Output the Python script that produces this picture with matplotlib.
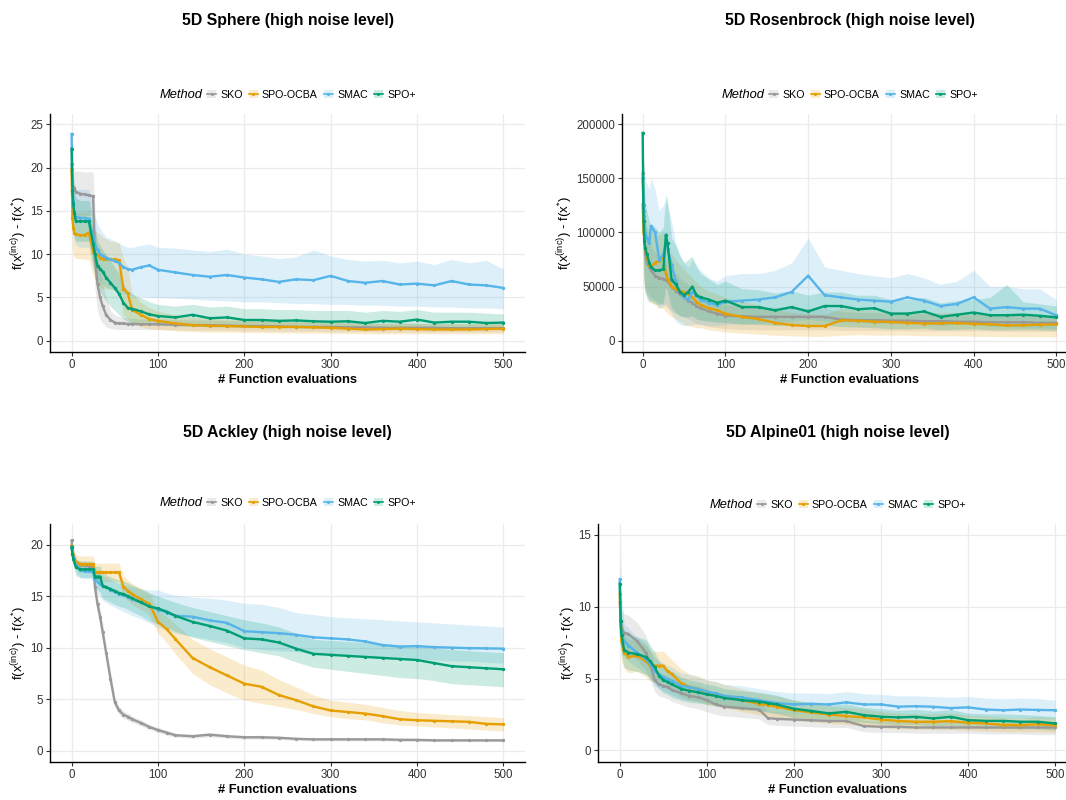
import matplotlib
matplotlib.use('Agg')
import matplotlib.pyplot as plt
from matplotlib.lines import Line2D
from matplotlib.patches import Patch

plt.rcParams['font.family'] = ['Liberation Sans', 'DejaVu Sans']
plt.rcParams['mathtext.default'] = 'regular'

METHODS = ['SKO', 'SPO-OCBA', 'SMAC', 'SPO+']
COLORS = ['#999999', '#E69F00', '#56B4E9', '#009E73']
X_TICKS = [0, 100, 200, 300, 400, 500]

# ---------------- 5D Sphere ----------------
sph_x = [0, 1, 2, 3, 5, 10, 15, 20, 25, 27, 30, 33, 36, 40, 45, 50, 55, 60, 65, 70, 80, 90, 100,
         120, 140, 160, 180, 200, 220, 240, 260, 280, 300, 320, 340, 360, 380, 400, 420, 440, 460, 480, 500]
sph_sko = [20.4, 18.0, 17.8, 17.6, 17.2, 17.0, 16.9, 16.8, 16.7, 9.5, 6.5, 5.0, 4.0, 3.0, 2.4, 2.1, 2.0, 2.0, 1.95, 1.95,
           1.9, 1.9, 1.9, 1.85, 1.8, 1.8, 1.75, 1.7, 1.7, 1.65, 1.6, 1.6, 1.6, 1.55, 1.55, 1.5, 1.5, 1.5, 1.5, 1.45, 1.45, 1.45, 1.45]
sph_sko_lo = [20.4, 15.5, 15.0, 14.5, 14.5, 14.5, 14.5, 14.5, 14.5, 6.0, 3.5, 2.5, 2.0, 1.6, 1.4, 1.35, 1.3, 1.3, 1.3, 1.3,
              1.3, 1.3, 1.3, 1.25, 1.2, 1.2, 1.2, 1.15, 1.15, 1.1, 1.1, 1.1, 1.05, 1.05, 1.05, 1.0, 1.0, 1.0, 1.0, 1.0, 1.0, 1.0, 1.0]
sph_sko_hi = [20.4, 20.0, 19.8, 19.6, 19.6, 19.6, 19.5, 19.5, 19.5, 15.0, 10.0, 8.0, 6.5, 5.0, 3.5, 3.0, 2.8, 2.7, 2.6, 2.6,
              2.5, 2.5, 2.5, 2.45, 2.4, 2.4, 2.35, 2.3, 2.3, 2.25, 2.2, 2.2, 2.15, 2.1, 2.1, 2.05, 2.05, 2.0, 2.0, 2.0, 1.95, 1.95, 1.95]
sph_ocba = [19.8, 14.2, 13.0, 12.5, 12.3, 12.2, 12.2, 12.5, 10.3, 10.0, 9.9, 9.6, 9.5, 9.4, 9.4, 9.4, 9.3, 6.0, 5.5, 3.6,
            3.0, 2.5, 2.3, 2.0, 1.8, 1.75, 1.7, 1.65, 1.6, 1.6, 1.6, 1.55, 1.5, 1.4, 1.3, 1.35, 1.4, 1.35, 1.3, 1.3, 1.3, 1.35, 1.4]
sph_ocba_lo = [19.8, 11.0, 10.0, 9.7, 9.5, 9.5, 9.4, 9.4, 7.5, 7.0, 6.5, 6.3, 6.0, 6.0, 6.0, 6.0, 5.5, 3.0, 2.5, 2.0,
               1.6, 1.4, 1.3, 1.15, 1.05, 1.0, 1.0, 0.95, 0.95, 0.9, 0.9, 0.9, 0.85, 0.85, 0.8, 0.8, 0.8, 0.8, 0.8, 0.8, 0.8, 0.8, 0.8]
sph_ocba_hi = [19.8, 17.0, 15.5, 15.0, 14.8, 14.8, 14.8, 15.0, 13.0, 12.8, 12.5, 12.3, 12.0, 11.8, 11.5, 11.5, 11.3, 9.5, 8.5, 5.5,
               4.5, 3.8, 3.4, 3.0, 2.7, 2.6, 2.5, 2.4, 2.35, 2.3, 2.3, 2.25, 2.2, 2.1, 2.0, 2.0, 2.05, 2.0, 1.95, 1.95, 1.95, 2.0, 2.0]
sph_smac = [23.9, 18.5, 16.0, 15.0, 14.3, 14.2, 14.2, 14.1, 12.0, 11.0, 10.5, 10.0, 9.8, 9.6, 9.4, 9.2, 9.0, 8.5, 8.3, 8.2,
            8.5, 8.7, 8.2, 7.9, 7.6, 7.4, 7.6, 7.3, 7.1, 6.8, 7.1, 7.0, 7.5, 6.9, 6.7, 6.9, 6.5, 6.6, 6.4, 6.9, 6.5, 6.4, 6.1]
sph_smac_lo = [23.9, 14.0, 12.0, 11.5, 11.0, 10.8, 10.8, 10.8, 8.5, 7.8, 7.2, 6.8, 6.5, 6.2, 6.0, 5.8, 5.6, 5.4, 5.3, 5.2,
               5.1, 5.0, 5.0, 4.9, 4.8, 4.7, 4.6, 4.5, 4.5, 4.4, 4.3, 4.3, 4.2, 4.2, 4.1, 4.1, 4.0, 4.0, 3.9, 3.9, 3.8, 3.8, 3.7]
sph_smac_hi = [23.9, 22.0, 20.0, 18.5, 17.5, 17.5, 17.5, 17.5, 15.5, 14.5, 13.5, 13.0, 12.5, 12.0, 11.8, 11.5, 11.3, 11.0, 10.8, 10.8,
               11.0, 11.2, 10.8, 10.7, 10.5, 10.3, 10.6, 10.0, 9.8, 9.5, 9.7, 10.5, 9.8, 9.4, 9.2, 9.3, 9.0, 9.2, 8.8, 9.4, 9.0, 9.3, 8.3]
sph_spo = [22.2, 17.3, 15.8, 14.8, 13.8, 13.8, 13.8, 13.8, 11.2, 10.0, 8.6, 8.3, 8.0, 7.3, 6.7, 6.1, 5.4, 4.4, 3.8, 3.7,
           3.4, 3.05, 2.86, 2.7, 3.0, 2.6, 2.7, 2.4, 2.4, 2.3, 2.35, 2.25, 2.2, 2.25, 2.05, 2.3, 2.2, 2.45, 2.1, 2.2, 2.2, 2.05, 2.1]
sph_spo_lo = [22.2, 14.5, 13.0, 12.0, 11.5, 11.5, 11.5, 11.5, 8.5, 7.5, 6.0, 5.6, 5.2, 4.6, 4.0, 3.5, 3.0, 2.5, 2.2, 2.1,
              2.0, 1.9, 1.8, 1.7, 1.7, 1.6, 1.6, 1.55, 1.5, 1.5, 1.5, 1.45, 1.4, 1.4, 1.35, 1.4, 1.35, 1.4, 1.3, 1.3, 1.3, 1.3, 1.3]
sph_spo_hi = [22.2, 20.0, 18.5, 17.5, 16.5, 16.2, 16.2, 16.2, 14.0, 12.8, 11.5, 11.0, 10.5, 10.0, 9.3, 8.5, 7.8, 6.5, 5.8, 5.4,
              5.0, 4.5, 4.2, 4.0, 4.2, 3.9, 4.0, 3.7, 3.7, 3.6, 3.6, 3.5, 3.5, 3.5, 3.3, 3.5, 3.4, 3.6, 3.3, 3.3, 3.3, 3.2, 3.1]

# ---------------- 5D Rosenbrock ----------------
ros_x = [0, 1, 2, 3, 5, 8, 10, 15, 20, 25, 28, 30, 35, 40, 45, 50, 55, 60, 65, 70, 80, 90, 100,
         120, 140, 160, 180, 200, 220, 240, 260, 280, 300, 320, 340, 360, 380, 400, 420, 440, 460, 480, 500]
ros_sko = [155000, 120000, 95000, 80000, 72000, 68000, 65000, 60000, 58000, 57000, 56000, 55000, 50000, 46000, 43000,
           40000, 37000, 35000, 32000, 30000, 27000, 25000, 23000, 22500, 22000, 22000, 22000, 22000, 22000, 19500,
           19000, 19000, 18500, 18500, 18000, 18000, 17500, 17500, 17000, 17000, 17000, 16500, 16500]
ros_sko_lo = [155000, 70000, 55000, 48000, 45000, 42000, 40000, 37000, 35000, 33000, 32000, 30000, 27000, 25000, 23000,
              22000, 20000, 18000, 16000, 15000, 13000, 12000, 11000, 10500, 10000, 10000, 10000, 10000, 10000, 9500,
              9500, 9500, 9500, 9000, 9000, 9000, 9000, 9000, 9000, 8500, 8500, 8500, 8500]
ros_sko_hi = [155000, 150000, 125000, 105000, 95000, 90000, 87000, 82000, 78000, 76000, 75000, 74000, 68000, 62000, 58000,
              55000, 52000, 49000, 45000, 42000, 38000, 35000, 33000, 32000, 31000, 31000, 30000, 30000, 30000, 27000,
              26000, 26000, 25000, 25000, 25000, 24500, 24000, 24000, 24000, 23500, 23500, 23000, 23000]
ros_ocba = [126000, 100000, 95000, 85000, 77000, 70000, 68000, 72000, 74000, 77000, 62000, 57000, 50000, 48000, 46000,
            45000, 43000, 40000, 36000, 33000, 30000, 28000, 25000, 22000, 20000, 16500, 14500, 13500, 13500, 18800,
            18500, 17500, 17300, 16500, 15800, 16000, 16300, 15500, 15100, 14000, 14200, 14800, 15000]
ros_ocba_lo = [126000, 60000, 50000, 45000, 40000, 36000, 35000, 33000, 30000, 30000, 27000, 25000, 22000, 20000, 18000,
               15000, 14000, 13000, 12000, 12000, 10000, 9000, 8000, 7000, 6000, 5000, 4500, 4000, 4000, 5000,
               5500, 5000, 5000, 5000, 4500, 4500, 4500, 4000, 4000, 3500, 3500, 3500, 3500]
ros_ocba_hi = [126000, 135000, 125000, 115000, 105000, 100000, 100000, 98000, 98000, 100000, 90000, 85000, 80000, 75000, 70000,
               66000, 62000, 58000, 54000, 50000, 46000, 43000, 40000, 36000, 33000, 29000, 26000, 25000, 24000, 30000,
               29000, 28000, 27000, 27000, 26000, 26000, 26000, 25000, 25000, 24000, 24000, 24000, 24000]
ros_smac = [150000, 125000, 115000, 100000, 95000, 90000, 106000, 100000, 75000, 80000, 90000, 85000, 70000, 55000, 45000,
            40000, 38000, 45000, 42000, 38000, 35000, 33000, 36000, 37000, 38000, 40000, 45000, 60000, 42000, 40000,
            38000, 37000, 36000, 40000, 37000, 32000, 34000, 40000, 29600, 31000, 29600, 29600, 23400]
ros_smac_lo = [150000, 80000, 60000, 45000, 38000, 35000, 38000, 36000, 30000, 32000, 35000, 33000, 25000, 18000, 15000,
               14000, 14000, 15000, 15000, 15000, 14000, 14000, 15000, 16000, 16000, 17000, 18000, 20000, 18000, 17000,
               17000, 16000, 16000, 17000, 16000, 14000, 15000, 16000, 13000, 13000, 12000, 12000, 11000]
ros_smac_hi = [150000, 165000, 160000, 150000, 145000, 140000, 150000, 140000, 120000, 125000, 130000, 125000, 110000, 90000, 80000,
               72000, 68000, 75000, 70000, 65000, 58000, 55000, 60000, 62000, 62000, 65000, 72000, 95000, 68000, 65000,
               62000, 60000, 58000, 62000, 58000, 52000, 55000, 65000, 50000, 50000, 48000, 48000, 38000]
ros_spo = [192000, 111000, 92000, 86000, 80000, 72000, 68000, 65000, 65000, 66000, 98000, 90000, 56000, 52000, 45000,
           42000, 45000, 50000, 42000, 40000, 38000, 35000, 37000, 31000, 31000, 28000, 31000, 27000, 32000, 32000,
           29000, 30000, 25000, 25000, 27000, 22000, 24000, 26000, 23500, 23500, 24000, 23000, 21500]
ros_spo_lo = [192000, 60000, 50000, 45000, 42000, 38000, 36000, 34000, 33000, 35000, 50000, 45000, 30000, 26000, 23000,
              22000, 22000, 23000, 20000, 19000, 18000, 17000, 17000, 15000, 15000, 14000, 14000, 13000, 14000, 13000,
              12500, 12000, 11000, 11000, 11500, 10000, 10500, 11000, 10000, 10000, 10500, 10000, 9500]
ros_spo_hi = [192000, 170000, 145000, 130000, 120000, 110000, 108000, 105000, 100000, 105000, 135000, 130000, 95000, 88000, 78000,
              72000, 75000, 78000, 68000, 62000, 57000, 52000, 55000, 48000, 47000, 44000, 46000, 42000, 45000, 45000,
              42000, 42000, 38000, 38000, 40000, 35000, 37000, 38000, 40000, 52000, 36000, 34000, 32000]

# ---------------- 5D Ackley ----------------
ack_x = [0, 1, 2, 5, 10, 15, 20, 25, 27, 30, 33, 36, 40, 45, 50, 55, 60, 65, 70, 80, 90, 100, 110, 120,
         140, 160, 180, 200, 220, 240, 260, 280, 300, 320, 340, 360, 380, 400, 420, 440, 460, 480, 500]
ack_sko = [20.4, 19.5, 19.0, 18.3, 18.0, 18.0, 17.9, 17.8, 15.9, 14.2, 13.0, 11.5, 9.5, 7.0, 4.7, 3.9, 3.5, 3.3, 3.05, 2.7,
           2.3, 2.0, 1.75, 1.5, 1.4, 1.55, 1.4, 1.3, 1.3, 1.25, 1.15, 1.1, 1.1, 1.1, 1.1, 1.1, 1.05, 1.05, 1.0, 1.0, 1.0, 1.0, 1.0]
ack_sko_lo = [20.4, 19.1, 18.6, 17.9, 17.6, 17.6, 17.5, 17.4, 15.2, 13.4, 12.2, 10.7, 8.8, 6.3, 4.2, 3.5, 3.15, 2.95, 2.75, 2.4,
              2.05, 1.75, 1.5, 1.3, 1.2, 1.35, 1.2, 1.12, 1.12, 1.08, 1.0, 0.95, 0.95, 0.95, 0.95, 0.95, 0.9, 0.9, 0.88, 0.88, 0.88, 0.88, 0.88]
ack_sko_hi = [20.4, 19.9, 19.4, 18.7, 18.4, 18.4, 18.3, 18.2, 16.6, 15.0, 13.8, 12.3, 10.2, 7.7, 5.2, 4.3, 3.85, 3.65, 3.35, 3.0,
              2.55, 2.25, 2.0, 1.7, 1.6, 1.75, 1.6, 1.48, 1.48, 1.42, 1.3, 1.25, 1.25, 1.25, 1.25, 1.25, 1.2, 1.2, 1.12, 1.12, 1.12, 1.12, 1.12]
ack_ocba = [19.9, 19.3, 19.0, 18.3, 18.1, 18.1, 18.1, 18.1, 17.3, 17.3, 17.3, 17.3, 17.3, 17.3, 17.3, 17.3, 15.9, 15.5, 15.2, 14.7,
            14.25, 12.5, 11.8, 10.85, 9.0, 8.1, 7.3, 6.5, 6.2, 5.4, 4.9, 4.3, 3.9, 3.75, 3.6, 3.35, 3.05, 2.95, 2.9, 2.85, 2.8, 2.6, 2.55]
ack_ocba_lo = [19.9, 18.8, 18.4, 17.6, 17.3, 17.3, 17.3, 17.3, 16.4, 16.4, 16.4, 16.4, 16.4, 16.4, 16.4, 16.4, 15.0, 14.6, 14.2, 13.7,
               13.2, 11.4, 10.5, 9.4, 7.5, 6.4, 5.6, 4.9, 4.6, 4.3, 4.0, 3.6, 3.3, 3.1, 3.0, 2.7, 2.5, 2.4, 2.3, 2.2, 2.1, 2.0, 1.9]
ack_ocba_hi = [19.9, 19.8, 19.6, 19.0, 18.9, 18.9, 18.9, 18.9, 18.2, 18.2, 18.2, 18.2, 18.2, 18.2, 18.2, 18.2, 17.0, 16.6, 16.2, 15.8,
               15.3, 13.6, 13.0, 12.3, 10.8, 9.9, 9.1, 8.3, 7.8, 6.9, 6.2, 5.4, 4.9, 4.7, 4.5, 4.2, 3.9, 3.7, 3.6, 3.5, 3.4, 3.3, 3.2]
ack_smac = [19.7, 19.1, 18.8, 18.0, 17.5, 17.4, 17.4, 17.3, 16.6, 16.4, 16.2, 16.0, 15.9, 15.6, 15.4, 15.2, 15.1, 14.9, 14.7, 14.4,
            14.0, 13.7, 13.4, 13.1, 13.0, 12.65, 12.4, 11.6, 11.5, 11.4, 11.25, 11.0, 10.9, 10.8, 10.6, 10.25, 10.1, 10.15, 10.05, 10.0, 9.95, 9.93, 9.9]
ack_smac_lo = [19.7, 18.7, 18.3, 17.3, 16.8, 16.7, 16.7, 16.6, 15.6, 15.2, 14.9, 14.6, 14.4, 14.1, 13.9, 13.7, 13.5, 13.3, 13.1, 12.8,
               12.4, 12.0, 11.7, 11.4, 11.1, 10.8, 10.5, 10.0, 9.8, 9.7, 9.6, 9.4, 9.3, 9.2, 9.1, 9.0, 8.9, 8.9, 8.8, 8.7, 8.7, 8.6, 8.5]
ack_smac_hi = [19.7, 19.5, 19.2, 18.6, 18.3, 18.2, 18.2, 18.1, 17.6, 17.4, 17.2, 17.0, 16.8, 16.6, 16.4, 16.2, 16.1, 16.0, 15.9, 15.7,
               15.6, 15.6, 15.3, 15.1, 14.9, 14.8, 14.6, 14.3, 14.2, 13.9, 13.4, 13.2, 13.0, 12.9, 12.8, 12.7, 12.6, 12.5, 12.4, 12.3, 12.2, 12.1, 12.0]
ack_spo = [19.8, 19.1, 18.6, 17.8, 17.6, 17.6, 17.6, 17.6, 16.9, 16.9, 16.9, 16.0, 15.85, 15.7, 15.5, 15.3, 15.2, 15.0, 14.8, 14.4,
           14.0, 13.8, 13.5, 13.1, 12.5, 12.1, 11.65, 10.9, 10.8, 10.5, 9.9, 9.4, 9.3, 9.2, 9.1, 9.0, 8.9, 8.8, 8.5, 8.2, 8.1, 8.0, 7.9]
ack_spo_lo = [19.8, 18.6, 18.0, 17.0, 16.8, 16.8, 16.8, 16.8, 15.8, 15.6, 15.4, 14.8, 14.6, 14.4, 14.2, 14.0, 13.9, 13.7, 13.5, 13.1,
              12.6, 12.3, 12.0, 11.6, 11.0, 10.6, 10.2, 9.8, 9.5, 9.2, 8.6, 8.1, 7.9, 7.7, 7.5, 7.3, 7.1, 7.0, 6.8, 6.5, 6.4, 6.3, 6.2]
ack_spo_hi = [19.8, 19.5, 19.1, 18.4, 18.4, 18.4, 18.4, 18.4, 17.9, 17.9, 17.9, 17.2, 17.1, 16.9, 16.7, 16.6, 16.5, 16.3, 16.1, 15.7,
              15.3, 15.0, 14.7, 14.4, 13.9, 13.5, 13.1, 12.7, 12.4, 12.0, 11.4, 10.8, 10.7, 10.6, 10.5, 10.4, 10.3, 10.2, 10.0, 9.8, 9.7, 9.6, 9.5]

# ---------------- 5D Alpine01 ----------------
alp_x = [0, 1, 2, 5, 10, 20, 30, 35, 40, 45, 50, 55, 60, 70, 80, 90, 100, 110, 120, 140, 160, 170, 180,
         200, 220, 240, 260, 280, 300, 320, 340, 360, 380, 400, 420, 440, 460, 480, 500]
alp_sko = [10.3, 9.0, 8.4, 8.2, 8.1, 7.6, 6.8, 6.0, 4.9, 4.6, 4.5, 4.4, 4.2, 4.0, 3.8, 3.7, 3.5, 3.2, 3.05, 2.95,
           2.85, 2.25, 2.2, 2.15, 2.1, 2.05, 2.05, 1.7, 1.65, 1.65, 1.6, 1.6, 1.6, 1.6, 1.6, 1.6, 1.6, 1.6, 1.6]
alp_sko_lo = [10.3, 7.5, 7.0, 6.8, 6.7, 6.3, 5.6, 4.9, 4.1, 3.8, 3.7, 3.6, 3.4, 3.2, 3.0, 2.9, 2.7, 2.5, 2.4, 2.3,
              2.2, 1.8, 1.75, 1.7, 1.65, 1.6, 1.6, 1.3, 1.25, 1.25, 1.2, 1.2, 1.2, 1.2, 1.15, 1.15, 1.15, 1.1, 1.1]
alp_sko_hi = [10.3, 10.5, 9.8, 9.5, 9.4, 8.9, 8.0, 7.1, 5.8, 5.4, 5.3, 5.2, 5.0, 4.8, 4.6, 4.5, 4.3, 3.9, 3.7, 3.6,
              3.5, 2.75, 2.7, 2.65, 2.6, 2.55, 2.55, 2.1, 2.05, 2.05, 2.0, 2.0, 2.0, 2.0, 2.0, 2.0, 2.0, 2.0, 2.0]
alp_ocba = [10.9, 8.5, 7.5, 6.8, 6.5, 6.6, 6.2, 5.9, 5.9, 5.9, 5.9, 5.5, 5.3, 4.7, 4.4, 4.27, 4.05, 3.95, 3.8, 3.5,
            3.25, 3.15, 3.05, 2.8, 2.65, 2.5, 2.4, 2.3, 2.15, 2.05, 2.0, 2.0, 2.04, 1.93, 1.88, 1.78, 1.76, 1.83, 1.76]
alp_ocba_lo = [10.9, 7.0, 6.2, 5.7, 5.4, 5.5, 5.1, 4.8, 4.8, 4.8, 4.8, 4.5, 4.3, 3.8, 3.5, 3.4, 3.2, 3.1, 3.0, 2.7,
               2.5, 2.4, 2.3, 2.1, 2.0, 1.9, 1.8, 1.7, 1.6, 1.5, 1.5, 1.45, 1.45, 1.4, 1.35, 1.3, 1.3, 1.3, 1.25]
alp_ocba_hi = [10.9, 10.0, 9.0, 8.0, 7.7, 7.7, 7.3, 6.9, 6.9, 6.9, 6.9, 6.6, 6.3, 5.7, 5.3, 5.2, 4.9, 4.8, 4.6, 4.3,
               4.0, 3.9, 3.8, 3.5, 3.3, 3.1, 3.0, 2.9, 2.7, 2.6, 2.55, 2.55, 2.6, 2.45, 2.4, 2.3, 2.25, 2.35, 2.25]
alp_smac = [11.9, 9.0, 8.0, 7.6, 7.3, 6.8, 6.35, 6.0, 5.5, 5.3, 5.1, 4.95, 4.85, 4.5, 4.4, 4.27, 4.1, 3.97, 3.8, 3.69,
            3.5, 3.4, 3.3, 3.2, 3.25, 3.2, 3.35, 3.2, 3.2, 3.05, 3.08, 3.04, 2.95, 3.0, 2.85, 2.8, 2.85, 2.82, 2.8]
alp_smac_lo = [11.9, 7.5, 6.8, 6.5, 6.2, 5.8, 5.3, 5.0, 4.5, 4.3, 4.2, 4.0, 3.9, 3.6, 3.5, 3.4, 3.3, 3.2, 3.05, 2.95,
               2.8, 2.7, 2.65, 2.6, 2.6, 2.55, 2.6, 2.5, 2.5, 2.45, 2.45, 2.4, 2.35, 2.35, 2.3, 2.25, 2.25, 2.2, 2.2]
alp_smac_hi = [11.9, 14.0, 11.0, 8.8, 8.5, 7.9, 7.4, 7.0, 6.5, 6.3, 6.1, 5.9, 5.8, 5.4, 5.3, 5.1, 4.9, 4.8, 4.6, 4.5,
               4.3, 4.2, 4.1, 4.0, 4.0, 3.95, 4.1, 3.95, 3.9, 3.8, 3.8, 3.75, 3.7, 3.75, 3.65, 3.6, 3.65, 3.6, 3.5]
alp_spo = [11.6, 9.0, 8.0, 7.0, 6.8, 6.7, 6.5, 6.2, 5.8, 5.2, 4.9, 4.75, 4.6, 4.3, 4.15, 4.05, 3.9, 3.8, 3.65, 3.5,
           3.4, 3.3, 3.2, 2.9, 2.75, 2.58, 2.69, 2.46, 2.35, 2.3, 2.34, 2.23, 2.34, 2.11, 2.06, 2.06, 2.0, 2.0, 1.88]
alp_spo_lo = [11.6, 7.5, 6.6, 5.8, 5.6, 5.5, 5.3, 5.0, 4.7, 4.3, 4.0, 3.9, 3.7, 3.5, 3.35, 3.3, 3.2, 3.1, 3.0, 2.85,
              2.75, 2.65, 2.55, 2.3, 2.2, 2.05, 2.1, 1.95, 1.85, 1.8, 1.8, 1.7, 1.75, 1.6, 1.55, 1.55, 1.5, 1.5, 1.4]
alp_spo_hi = [11.6, 11.0, 9.5, 8.3, 8.0, 7.9, 7.7, 7.3, 6.9, 6.2, 5.8, 5.6, 5.5, 5.1, 4.9, 4.8, 4.6, 4.5, 4.3, 4.15,
              4.05, 3.95, 3.85, 3.5, 3.35, 3.15, 3.25, 3.0, 2.9, 2.8, 2.85, 2.75, 2.85, 2.6, 2.55, 2.55, 2.5, 2.45, 2.35]

W, H = 1066, 800
fig = plt.figure(figsize=(W / 100, H / 100), dpi=100)


def px_box(left, right, top, bottom):
    return [left / W, 1 - bottom / H, (right - left) / W, (bottom - top) / H]


panels = [
    dict(title='5D Sphere (high noise level)', x=sph_x,
         series=[(sph_sko, sph_sko_lo, sph_sko_hi), (sph_ocba, sph_ocba_lo, sph_ocba_hi),
                 (sph_smac, sph_smac_lo, sph_smac_hi), (sph_spo, sph_spo_lo, sph_spo_hi)],
         box=(50, 525, 114, 352), ylim=(-1.3, 26.2), yticks=[0, 5, 10, 15, 20, 25],
         title_y=20, leg_y=95, ylab_x=29),
    dict(title='5D Rosenbrock (high noise level)', x=ros_x,
         series=[(ros_sko, ros_sko_lo, ros_sko_hi), (ros_ocba, ros_ocba_lo, ros_ocba_hi),
                 (ros_smac, ros_smac_lo, ros_smac_hi), (ros_spo, ros_spo_lo, ros_spo_hi)],
         box=(622, 1077, 114, 352), ylim=(-10500, 209500), yticks=[0, 50000, 100000, 150000, 200000],
         title_y=20, leg_y=95, ylab_x=575),
    dict(title='5D Ackley (high noise level)', x=ack_x,
         series=[(ack_sko, ack_sko_lo, ack_sko_hi), (ack_ocba, ack_ocba_lo, ack_ocba_hi),
                 (ack_smac, ack_smac_lo, ack_smac_hi), (ack_spo, ack_spo_lo, ack_spo_hi)],
         box=(50, 525, 524, 762), ylim=(-1.1, 22.0), yticks=[0, 5, 10, 15, 20],
         title_y=432, leg_y=503, ylab_x=29),
    dict(title='5D Alpine01 (high noise level)', x=alp_x,
         series=[(alp_sko, alp_sko_lo, alp_sko_hi), (alp_ocba, alp_ocba_lo, alp_ocba_hi),
                 (alp_smac, alp_smac_lo, alp_smac_hi), (alp_spo, alp_spo_lo, alp_spo_hi)],
         box=(598, 1077, 524, 762), ylim=(-0.8, 15.75), yticks=[0, 5, 10, 15],
         title_y=432, leg_y=505, ylab_x=578),
]

legend_items = []
for p in panels:
    l, r, t, b = p['box']
    ax = fig.add_axes(px_box(l, r, t, b))
    for (m, lo, hi), c in zip(p['series'], COLORS):
        ax.fill_between(p['x'], lo, hi, color=c, alpha=0.2, lw=0)
    for (m, lo, hi), c in zip(p['series'], COLORS):
        ax.plot(p['x'], m, color=c, lw=1.7, marker='o', ms=2.4, mew=0)
    ax.set_xlim(-25, 525)
    ax.set_ylim(*p['ylim'])
    ax.set_xticks(X_TICKS)
    ax.set_xticklabels([str(v) for v in X_TICKS])
    ax.set_yticks(p['yticks'])
    ax.set_yticklabels([str(v) for v in p['yticks']])
    ax.grid(True, color='#EBEBEB', lw=0.9)
    ax.set_axisbelow(True)
    for s in ['top', 'right']:
        ax.spines[s].set_visible(False)
    for s in ['left', 'bottom']:
        ax.spines[s].set_color('black')
        ax.spines[s].set_linewidth(1.0)
    ax.tick_params(labelsize=8.3, labelcolor='#333333', color='#333333', length=3, width=0.8, pad=2)
    ax.set_xlabel('# Function evaluations', fontsize=9.3, fontweight='bold', labelpad=2)
    ax.set_ylabel(r'f(x$^{(inc)}$) - f(x$^{*}$)', fontsize=9.5)
    ax.yaxis.set_label_coords((p['ylab_x'] - l) / (r - l), 0.5)
    cx = (l + r) / 2
    fig.text(cx / W, 1 - p['title_y'] / H, p['title'], ha='center', va='center',
             fontsize=11.4, fontweight='bold')

    handles = [(Patch(facecolor=c, alpha=0.2, edgecolor='none'),
                Line2D([], [], color=c, lw=1.2, marker='o', ms=2.2, mew=0)) for c in COLORS]
    leg = fig.legend(handles, METHODS, loc='center left', bbox_to_anchor=(0, 0),
                     bbox_transform=fig.transFigure, ncol=4, frameon=False, fontsize=7.7,
                     handlelength=0.8, handleheight=0.8, handletextpad=0.4, columnspacing=0.6,
                     borderpad=0, borderaxespad=0)
    mt = fig.text(0, 0, 'Method', fontsize=9.3, style='italic', ha='left', va='center')
    legend_items.append((leg, mt, cx, p['leg_y']))

fig.canvas.draw()
renderer = fig.canvas.get_renderer()
gap = 5
for leg, mt, cx, ly in legend_items:
    wl = leg.get_window_extent(renderer).width
    wt = mt.get_window_extent(renderer).width
    total = wt + gap + wl
    start = cx - total / 2
    yf = 1 - ly / H
    mt.set_position((start / W, yf))
    leg.set_bbox_to_anchor(((start + wt + gap) / W, yf), transform=fig.transFigure)

fig.savefig('out.png', dpi=100)
